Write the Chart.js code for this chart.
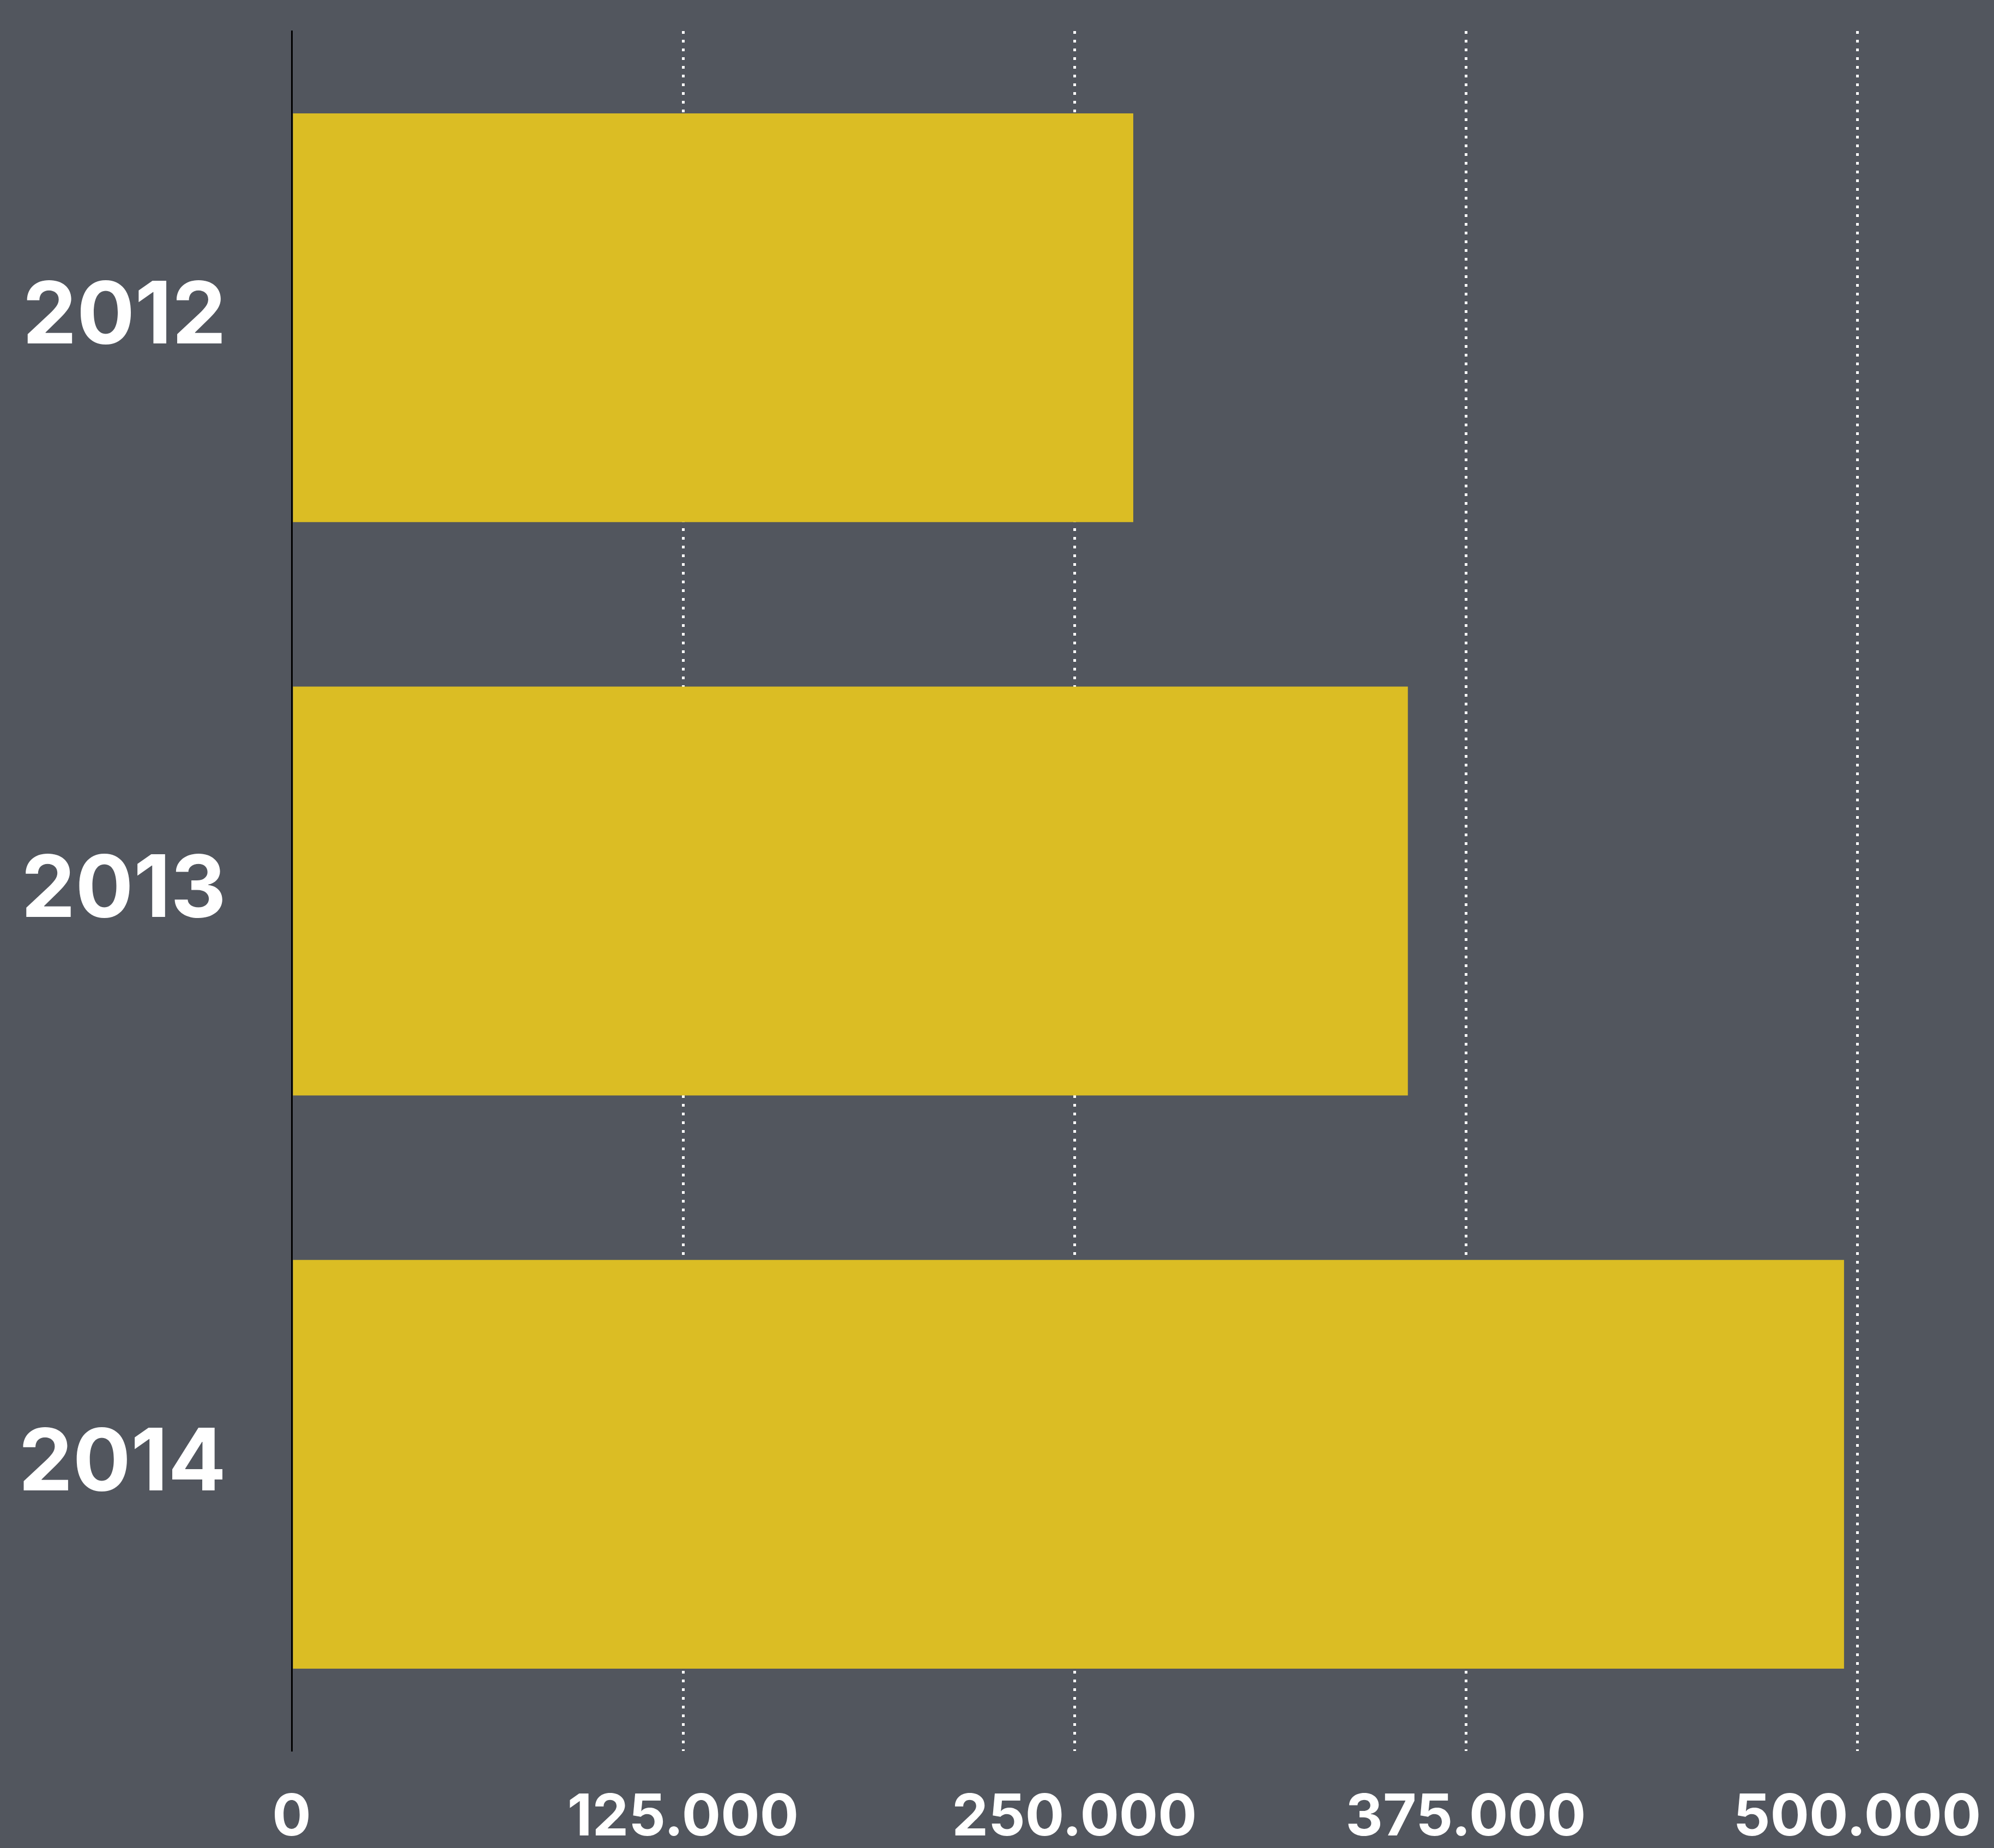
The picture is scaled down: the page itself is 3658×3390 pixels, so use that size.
<!DOCTYPE html>
<html>
<head>
<meta charset="utf-8">
<title>2012–2014</title>
<script src="https://cdn.jsdelivr.net/npm/chart.js@4/dist/chart.umd.min.js"></script>
<style>
    html, body { margin: 0; padding: 0; background: #52565e; }
    #chart { display: block; background: #52565e; }
</style>
</head>
<body>
<canvas id="chart" width="3658" height="3390"></canvas>
<script>
// yearly totals
const years = ['2012', '2013', '2014'];
const totals = [268800, 356500, 495800];
const axisMax = 500000;
const axisStep = 125000;

const ctx = document.getElementById('chart').getContext('2d');
new Chart(ctx, {
    type: 'bar',
    data: {
        labels: years,
        datasets: [{
            data: totals,
            backgroundColor: '#dbbd24',
            borderWidth: 0,
            categoryPercentage: 1,
            barPercentage: 0.713
        }]
    },
    options: {
        indexAxis: 'y',
        responsive: false,
        animation: false,
        devicePixelRatio: 1,
        layout: {
            padding: { top: 57, right: 251, bottom: 0, left: 0 }
        },
        plugins: {
            legend: { display: false },
            tooltip: { enabled: false }
        },
        scales: {
            x: {
                min: 0,
                max: axisMax,
                // fixed axis band, no extra room for overhanging labels
                afterFit: (scale) => {
                    scale.height = 178;
                    scale.paddingLeft = 0;
                    scale.paddingRight = 0;
                },
                border: { display: false, dash: [5, 11] },
                grid: {
                    drawTicks: false,
                    lineWidth: 5,
                    color: (c) => (c.tick && c.tick.value === 0) ? 'rgba(0,0,0,0)' : '#ffffff'
                },
                ticks: {
                    stepSize: axisStep,
                    autoSkip: false,
                    maxRotation: 0,
                    padding: 60,
                    color: '#ffffff',
                    font: { family: 'Inter', size: 106, weight: 'bold' },
                    callback: (value) => value.toLocaleString('de-DE')
                }
            },
            y: {
                z: 1,
                afterFit: (scale) => {
                    scale.width = 535;
                    scale.paddingTop = 0;
                    scale.paddingBottom = 0;
                },
                border: { display: true, color: '#000000', width: 3 },
                grid: { display: false, drawTicks: false },
                ticks: {
                    padding: 120,
                    color: '#ffffff',
                    font: { family: 'Inter', size: 158, weight: 'bold' }
                }
            }
        }
    }
});
</script>
</body>
</html>
